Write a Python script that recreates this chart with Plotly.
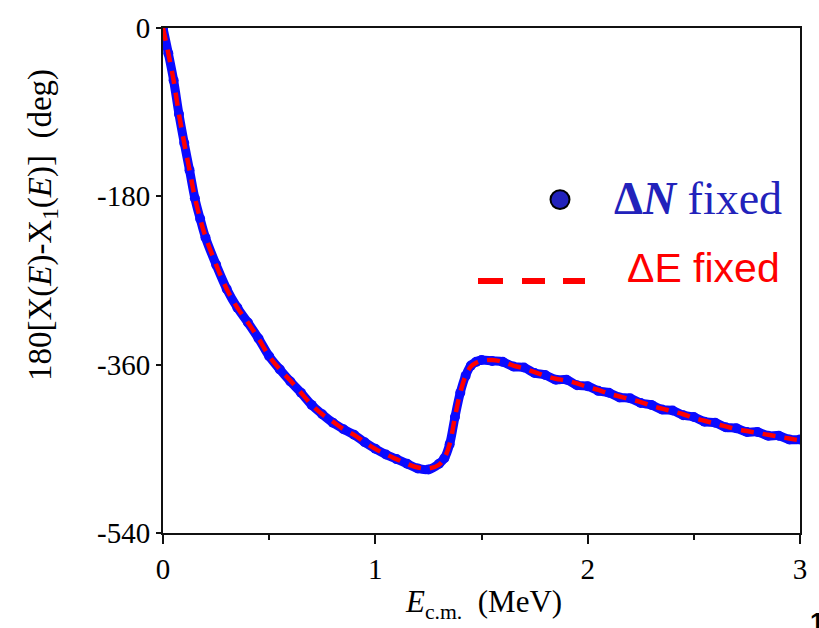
import plotly.graph_objects as go

# Energy grid (MeV) and phase values (deg)
energy = [0.0, 0.025, 0.05, 0.075, 0.1, 0.125, 0.15, 0.175, 0.2, 0.25, 0.3, 0.35, 0.4,
          0.45, 0.5, 0.55, 0.6, 0.65, 0.7, 0.75, 0.8, 0.85, 0.9, 0.95, 1.0, 1.05, 1.1,
          1.15, 1.2, 1.25, 1.3, 1.325, 1.35, 1.375, 1.4, 1.425, 1.45, 1.475, 1.5, 1.55,
          1.6, 1.65, 1.7, 1.75, 1.8, 1.85, 1.9, 1.95, 2.0, 2.05, 2.1, 2.15, 2.2, 2.25,
          2.3, 2.35, 2.4, 2.45, 2.5, 2.55, 2.6, 2.65, 2.7, 2.75, 2.8, 2.85, 2.9, 2.95, 3.0]

# ΔE fixed (smooth calculation)
phase_de = [0, -27, -56, -92, -123, -152, -181, -204, -223, -253, -279, -299, -315,
            -332, -351, -365, -377, -390, -403, -413, -421, -429, -435, -443, -450, -456, -461,
            -466, -470, -471, -467, -460, -445, -416, -390, -372, -362, -358, -356, -355,
            -357, -361, -364, -368, -372, -375, -377, -380, -384, -387, -391, -394, -397, -400,
            -404, -407, -410, -413, -417, -420, -423, -426, -429, -431, -433, -435, -437, -439, -441]

# ΔN fixed (sampled calculation, slightly scattered)
phase_dn = [0, -27, -56, -92, -123, -152, -182, -204, -224, -253, -279, -299, -315,
            -332, -351, -365, -378, -390, -403, -413, -422, -429, -435, -443, -450, -456, -461,
            -466, -471, -472, -466, -460, -445, -416, -390, -372, -361, -357, -355, -356,
            -357, -362, -363, -369, -371, -376, -376, -382, -383, -388, -390, -395, -396, -401,
            -403, -408, -409, -414, -416, -421, -422, -427, -428, -432, -432, -436, -436, -440, -440]

TICK_Y = [0, -180, -360, -540]
TICK_Y_TEXT = ["0", "-180", "-360", "-540"]
TICK_X = [0, 1, 2, 3]
TICK_X_TEXT = ["0", "1", "2", "3"]

SERIF = "Liberation Serif, Times New Roman, serif"
SANS = "Liberation Sans, Arial, sans-serif"

fig = go.Figure()

fig.add_trace(go.Scatter(
    x=energy, y=phase_dn, mode="lines+markers", line_shape="spline",
    line=dict(color="#0a0aff", width=9),
    marker=dict(color="#0a0aff", size=10),
    showlegend=False,
))
fig.add_trace(go.Scatter(
    x=energy, y=phase_de, mode="lines", line_shape="spline",
    line=dict(color="#ff0000", width=4.5, dash="13px,9px"),
    showlegend=False,
))

tick_font = dict(family=SERIF, size=29, color="black")

fig.update_xaxes(
    range=[0, 3], tickmode="array", tickvals=TICK_X, ticktext=TICK_X_TEXT,
    tickfont=tick_font, ticks="outside", ticklen=9, tickwidth=2, tickcolor="#111111",
    minor=dict(dtick=0.5, ticks="outside", ticklen=5, tickcolor="#111111", tickwidth=2),
    showline=True, linecolor="#111111", linewidth=2, mirror=True,
    showgrid=False, zeroline=False,
)
fig.update_yaxes(
    range=[-540, 0], tickmode="array", tickvals=TICK_Y, ticktext=TICK_Y_TEXT,
    tickfont=tick_font, ticks="outside", ticklen=5, tickwidth=2, tickcolor="#111111",
    showline=True, linecolor="#111111", linewidth=2, mirror=True,
    showgrid=False, zeroline=False,
)


def px(xp):
    return (xp - 163) / 637


def py(yp):
    return 1 - (yp - 18) / 515


annotations = [
    # y-axis title
    dict(text="180[X(<i>E</i>)-X<sub>1</sub>(<i>E</i>)]\u00a0\u00a0(deg)",
         xref="paper", yref="paper", x=px(42), y=py(219), textangle=-90,
         xanchor="center", yanchor="middle", showarrow=False,
         font=dict(family=SERIF, size=33, color="black")),
    # x-axis title
    dict(text="<i>E</i><sub>c.m.</sub>\u00a0\u00a0(MeV)",
         xref="paper", yref="paper", x=px(483), y=py(605),
         xanchor="center", yanchor="middle", showarrow=False,
         font=dict(family=SERIF, size=31, color="black")),
    # legend labels
    dict(text="<b>Δ<i>N</i></b> fixed", xref="paper", yref="paper",
         x=px(612), y=py(192), xanchor="left", yanchor="middle",
         showarrow=False, font=dict(family=SERIF, size=46, color="#2222bb")),
    dict(text="ΔE fixed", xref="paper", yref="paper",
         x=px(625), y=py(263), xanchor="left", yanchor="middle",
         showarrow=False, font=dict(family=SANS, size=41, color="#ff0000")),
    # panel number
    dict(text="<b>1</b>", xref="paper", yref="paper",
         x=px(808), y=py(606), xanchor="left", yanchor="top",
         showarrow=False, font=dict(family=SANS, size=26, color="black")),
]

shapes = [
    dict(type="circle", xref="paper", yref="paper",
         x0=px(550.5), x1=px(569.5), y0=py(202.5), y1=py(183.5),
         fillcolor="#2222bb", line=dict(color="black", width=2)),
]
for a, b in [(478, 503), (522, 545), (563, 585)]:
    shapes.append(dict(type="line", xref="paper", yref="paper",
                       x0=px(a), x1=px(b), y0=py(276), y1=py(276),
                       line=dict(color="#ff0000", width=6)))

fig.update_layout(
    width=819, height=628,
    margin=dict(l=163, r=19, t=18, b=95),
    paper_bgcolor="white", plot_bgcolor="white",
    font=dict(family=SERIF, color="black"),
    annotations=annotations, shapes=shapes,
)

fig.write_html("out.html")
